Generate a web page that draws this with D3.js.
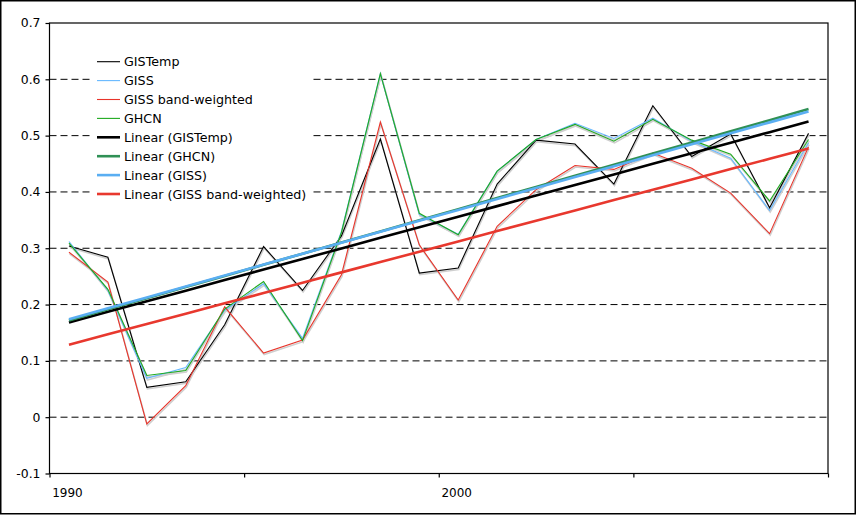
<!DOCTYPE html>
<html>
<head>
<meta charset="utf-8">
<script src="https://cdn.jsdelivr.net/npm/d3@7"></script>
<style>
  html, body { margin: 0; padding: 0; background: #fff; }
  svg { display: block; font-family: "DejaVu Sans", Verdana, sans-serif; }
</style>
</head>
<body>
<svg id="chart" width="856" height="515"></svg>
<script>
// Annual anomalies 1990-2009
const years = d3.range(1990, 2010)
const gistemp = [0.304, 0.284, 0.053, 0.063, 0.164, 0.303, 0.225, 0.322, 0.494, 0.256,
                 0.265, 0.414, 0.492, 0.485, 0.414, 0.553, 0.463, 0.503, 0.372, 0.504]
const giss = [0.312, 0.225, 0.069, 0.088, 0.190, 0.237, 0.140, 0.330, 0.610, 0.360,
              0.325, 0.437, 0.493, 0.522, 0.495, 0.531, 0.490, 0.460, 0.367, 0.487]
const gissBand = [0.293, 0.240, -0.012, 0.056, 0.196, 0.114, 0.137, 0.253, 0.524, 0.306,
                  0.208, 0.339, 0.404, 0.447, 0.440, 0.469, 0.442, 0.398, 0.326, 0.480]
const ghcn = [0.309, 0.227, 0.074, 0.083, 0.192, 0.241, 0.136, 0.328, 0.610, 0.362,
              0.324, 0.437, 0.493, 0.520, 0.490, 0.529, 0.492, 0.467, 0.384, 0.493]

const yTicks = [-0.1, 0, 0.1, 0.2, 0.3, 0.4, 0.5, 0.6, 0.7]
const xTickYears = [1990, 1995, 2000, 2005, 2010]
const xLabelYears = [1990, 2000]

const series = [
  { name: "GISTemp", values: gistemp, color: "#000000" },
  { name: "GISS", values: giss, color: "#66b8ff" },
  { name: "GISS band-weighted", values: gissBand, color: "#e8342a" },
  { name: "GHCN", values: ghcn, color: "#1faa1f" }
]
const trends = [
  { name: "Linear (GISTemp)", values: gistemp, color: "#000000" },
  { name: "Linear (GHCN)", values: ghcn, color: "#2f9055" },
  { name: "Linear (GISS)", values: giss, color: "#5aaef2" },
  { name: "Linear (GISS band-weighted)", values: gissBand, color: "#e8382e" }
]

const svg = d3.select("#chart")
const plotL = 49.5, plotR = 828, plotT = 23, plotB = 473.5

// category axis: each year occupies one slot, points sit in slot centres
const x = d3.scaleLinear().domain([1990, 2010]).range([plotL, plotR])
const y = d3.scaleLinear().domain([-0.1, 0.7]).range([plotB, plotT])

// outer frame of the picture
svg.append("rect")
  .attr("x", 0.75).attr("y", 0.75).attr("width", 854.5).attr("height", 513)
  .attr("fill", "#fff").attr("stroke", "#000").attr("stroke-width", 1.5)

// dashed gridlines
svg.append("g")
  .selectAll("line")
  .data(yTicks.filter((d) => d > -0.1 && d < 0.7))
  .join("line")
  .attr("x1", plotL).attr("x2", plotR)
  .attr("y1", (d) => y(d)).attr("y2", (d) => y(d))
  .attr("stroke", "#000").attr("stroke-width", 1)
  .attr("stroke-dasharray", "7,4")

// axes
const yAxis = svg.append("g")
  .attr("transform", `translate(${plotL},0)`)
  .call(d3.axisLeft(y).tickValues(yTicks).tickSize(4).tickPadding(5)
    .tickFormat((d) => String(+d.toFixed(1))))
yAxis.select(".domain").remove()
yAxis.selectAll("line").attr("stroke", "#000").attr("stroke-width", 1.2)
yAxis.selectAll("text").attr("font-size", 12.4).attr("fill", "#000")
  .attr("font-family", "DejaVu Sans, Verdana, sans-serif")

const xAxis = svg.append("g")
  .attr("transform", `translate(0,${plotB})`)
  .call(d3.axisBottom(x).tickValues(xTickYears).tickSize(4).tickFormat(""))
xAxis.select(".domain").remove()
xAxis.selectAll("line").attr("stroke", "#000").attr("stroke-width", 1.2)

svg.append("g")
  .selectAll("text")
  .data(xLabelYears)
  .join("text")
  .attr("x", (d) => x(d + 0.5) - 1.5)
  .attr("y", 497)
  .attr("text-anchor", "middle")
  .attr("font-size", 12)
  .text((d) => d)

// plot frame
svg.append("rect")
  .attr("x", plotL).attr("y", plotT)
  .attr("width", plotR - plotL).attr("height", plotB - plotT)
  .attr("fill", "none").attr("stroke", "#000").attr("stroke-width", 1.2)

const line = d3.line()
  .x((d, i) => x(years[i] + 0.5))
  .y((d) => y(d))

// thin data lines with the light drop shadow
const dataG = svg.append("g")
series.forEach((s) => {
  dataG.append("path")
    .datum(s.values)
    .attr("d", line)
    .attr("fill", "none")
    .attr("stroke", "#cfcfcf")
    .attr("stroke-width", 1.6)
    .attr("transform", "translate(0.6,1.6)")
})
series.forEach((s) => {
  dataG.append("path")
    .datum(s.values)
    .attr("d", line)
    .attr("fill", "none")
    .attr("stroke", s.color)
    .attr("stroke-width", 1.1)
    .attr("stroke-linejoin", "miter")
})

// least-squares trend of each series
function fit(values) {
  const mx = d3.mean(years), my = d3.mean(values)
  let sxy = 0, sxx = 0
  values.forEach((v, i) => {
    sxy += (years[i] - mx) * (v - my)
    sxx += (years[i] - mx) * (years[i] - mx)
  })
  const b = sxy / sxx
  return years.map((yr) => my + b * (yr - mx))
}

trends.forEach((t) => {
  const f = fit(t.values)
  svg.append("path")
    .datum(f)
    .attr("d", line)
    .attr("fill", "none")
    .attr("stroke", t.color)
    .attr("stroke-width", 2.6)
})

// legend, on a white box that hides the gridlines behind it
const legendItems = series.map((s) => ({ name: s.name, color: s.color, w: 1.1 }))
  .concat(trends.map((t) => ({ name: t.name, color: t.color, w: 2.6 })))
svg.append("rect")
  .attr("x", 93).attr("y", 50).attr("width", 219).attr("height", 155)
  .attr("fill", "#fff")
const legend = svg.append("g")
  .selectAll("g")
  .data(legendItems)
  .join("g")
  .attr("transform", (d, i) => `translate(0,${61.7 + i * 18.9})`)
legend.append("line")
  .attr("x1", 97).attr("x2", 120)
  .attr("stroke", (d) => d.color)
  .attr("stroke-width", (d) => d.w)
legend.append("text")
  .attr("x", 124).attr("y", 4.5)
  .attr("font-size", 12.7)
  .attr("fill", "#000")
  .text((d) => d.name)
</script>
</body>
</html>
